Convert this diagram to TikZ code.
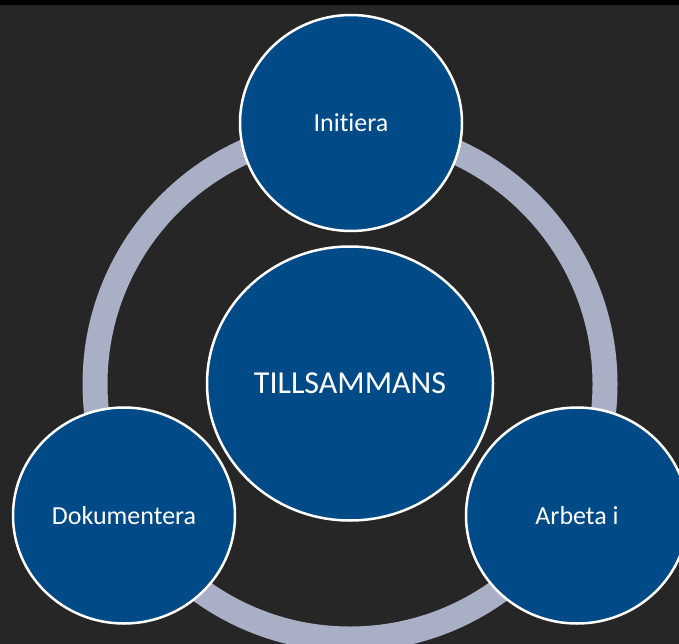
\documentclass[tikz,border=0pt]{standalone}
\usepackage{fontspec}
\setmainfont{Carlito}[Ligatures={NoCommon}]
\usetikzlibrary{shapes.geometric}
\definecolor{backdrop}{HTML}{262626}
\definecolor{phaseblue}{HTML}{004A88}
\definecolor{ringgray}{HTML}{A9AFC4}
\begin{document}
\begin{tikzpicture}[x=1pt, y=-1pt,
      every node/.style = {shape=ellipse, inner sep=0pt, draw=white, line width=2.5pt, fill=phaseblue, text=white, align=center},
      phase/.style = {minimum width=222pt, minimum height=216pt, font=\fontsize{26}{30}\selectfont},
      hub/.style = {minimum width=286pt, minimum height=274pt, font=\fontsize{32}{36}\selectfont}]
    \useasboundingbox (0,0) rectangle (679,644);
    \fill[backdrop] (0,0) rectangle (679,644);
    \fill[black] (0,0) rectangle (679,5);
    % the cycle ring
    \draw[ringgray, line width=25pt] (350,384) circle (255);
    \node[hub] (hub) at (350,383.5) {TILLSAMMANS};
    \node[phase] (init) at (351,123) {Initiera};
    \node[phase] (arbeta) at (577,515.5) {Arbeta i};
    \node[phase] (dok) at (124,515.5) {Dokumentera};
\end{tikzpicture}
\end{document}
